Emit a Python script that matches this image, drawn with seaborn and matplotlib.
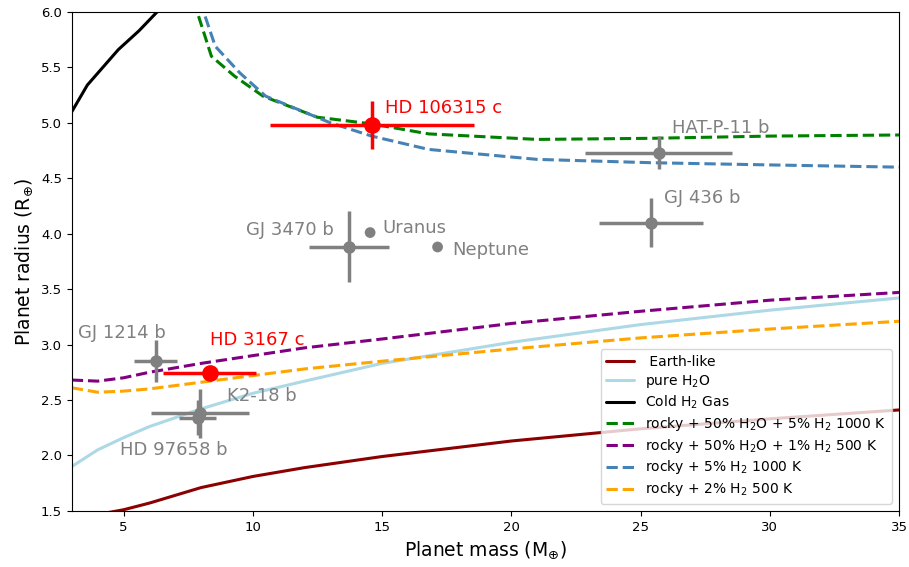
import numpy as np
import matplotlib.pyplot as plt
import seaborn as sns

# Mass-radius model curves (M_earth, R_earth)
earth_m = [4.3, 5, 6, 8, 10, 12, 15, 20, 25, 30, 35]
earth_r = [1.48, 1.51, 1.57, 1.71, 1.81, 1.89, 1.99, 2.13, 2.24, 2.33, 2.41]

h2o_m = [3, 4, 5, 6, 8, 10, 12, 15, 20, 25, 30, 35]
h2o_r = [1.90, 2.05, 2.16, 2.26, 2.42, 2.56, 2.67, 2.83, 3.02, 3.18, 3.31, 3.42]

cold_m = [3, 3.6, 4.8, 5.6, 6.3, 7.0]
cold_r = [5.10, 5.34, 5.66, 5.83, 6.0, 6.15]

w50h5_m = [7.7, 7.85, 8.4, 9.3, 10.4, 12.5, 14.6, 16.8, 21.0, 25.4, 30, 35]
w50h5_r = [6.1, 6.0, 5.60, 5.42, 5.24, 5.05, 4.99, 4.90, 4.85, 4.86, 4.88, 4.89]

w50h1_m = [3, 4, 5, 6, 8, 10, 12, 15, 20, 25, 30, 35]
w50h1_r = [2.68, 2.67, 2.70, 2.75, 2.83, 2.90, 2.97, 3.05, 3.19, 3.30, 3.40, 3.47]

h5_m = [8.0, 8.1, 8.55, 9.5, 10.5, 13.0, 14.6, 16.8, 21.0, 25.4, 30, 35]
h5_r = [6.1, 6.0, 5.69, 5.45, 5.24, 5.00, 4.88, 4.76, 4.67, 4.64, 4.62, 4.60]

h2_m = [3, 4, 5, 6, 8, 10, 12, 15, 20, 25, 30, 35]
h2_r = [2.61, 2.57, 2.58, 2.60, 2.66, 2.72, 2.78, 2.85, 2.96, 3.06, 3.14, 3.21]

# Known planets
planets = ["GJ 1214 b", "K2-18 b", "HD 97658 b", "GJ 3470 b", "HAT-P-11 b", "GJ 436 b"]
pl_mass = [6.24, 7.96, 7.87, 13.72, 25.7, 25.4]
pl_mass_err = [0.83, 1.90, 0.72, 1.55, 2.85, 2.0]
pl_rad = [2.85, 2.38, 2.34, 3.88, 4.73, 4.10]
pl_rad_err = [0.19, 0.22, 0.16, 0.32, 0.15, 0.22]

solar = ["Uranus", "Neptune"]
solar_mass = [14.54, 17.15]
solar_rad = [4.01, 3.88]

targets = ["HD 106315 c", "HD 3167 c"]
tg_mass = [14.6, 8.33]
tg_mass_err = [3.95, 1.8]
tg_rad = [4.98, 2.74]
tg_rad_err = [0.22, 0.0]

sns.set_style("ticks", {"axes.edgecolor": "black", "text.color": "black",
                        "xtick.color": "black", "ytick.color": "black",
                        "axes.labelcolor": "black"})
plt.rcParams['font.family'] = ['DejaVu Sans']

fig = plt.figure(figsize=(9.09, 5.67), dpi=100)
ax = fig.add_axes([0.079, 0.099, 0.910, 0.880])

lw = 2.2
sns.lineplot(x=earth_m, y=earth_r, sort=False, color='darkred', lw=lw, label=' Earth-like', ax=ax)
sns.lineplot(x=h2o_m, y=h2o_r, sort=False, color='lightblue', lw=lw, label='pure H$_2$O', ax=ax)
sns.lineplot(x=cold_m, y=cold_r, sort=False, color='black', lw=lw, label='Cold H$_2$ Gas', ax=ax)
sns.lineplot(x=w50h5_m, y=w50h5_r, sort=False, color='green', lw=lw, ls='--',
             label='rocky + 50% H$_2$O + 5% H$_2$ 1000 K', ax=ax)
sns.lineplot(x=w50h1_m, y=w50h1_r, sort=False, color='purple', lw=lw, ls='--',
             label='rocky + 50% H$_2$O + 1% H$_2$ 500 K', ax=ax)
sns.lineplot(x=h5_m, y=h5_r, sort=False, color='steelblue', lw=lw, ls='--',
             label='rocky + 5% H$_2$ 1000 K', ax=ax)
sns.lineplot(x=h2_m, y=h2_r, sort=False, color='orange', lw=lw, ls='--',
             label='rocky + 2% H$_2$ 500 K', ax=ax)

# planets with error bars
ax.errorbar(pl_mass, pl_rad, xerr=pl_mass_err, yerr=pl_rad_err, fmt='o', color='grey',
            ms=8, elinewidth=2.5, capsize=0, zorder=5)
sns.scatterplot(x=solar_mass, y=solar_rad, color='grey', s=60, edgecolor='none', ax=ax, zorder=5)
ax.errorbar(tg_mass, tg_rad, xerr=tg_mass_err, yerr=tg_rad_err, fmt='o', color='red',
            ms=11, elinewidth=2.5, capsize=0, zorder=6)

# labels
fs = 13
grey_labels = {
    "GJ 1214 b": (3.25, 3.10),
    "K2-18 b": (9.0, 2.54),
    "HD 97658 b": (4.88, 2.05),
    "GJ 3470 b": (9.75, 4.03),
    "Uranus": (15.0, 4.05),
    "Neptune": (17.7, 3.85),
    "HAT-P-11 b": (26.2, 4.95),
    "GJ 436 b": (25.9, 4.32),
}
for name, (tx, ty) in grey_labels.items():
    ax.text(tx, ty, name, color='grey', fontsize=fs, va='center', ha='left')
ax.text(15.1, 5.13, "HD 106315 c", color='red', fontsize=fs, va='center', ha='left')
ax.text(8.35, 3.04, "HD 3167 c", color='red', fontsize=fs, va='center', ha='left')

ax.set_xlim(3, 35)
ax.set_ylim(1.5, 6.0)
ax.set_xticks([5, 10, 15, 20, 25, 30, 35])
ax.set_yticks(np.arange(1.5, 6.01, 0.5))
ax.tick_params(labelsize=9.5)
ax.set_xlabel(r'Planet mass (M$_{\oplus}$)', fontsize=13.5)
ax.set_ylabel(r'Planet radius (R$_{\oplus}$)', fontsize=13.5)
ax.legend(loc='lower right', fontsize=10, labelspacing=0.28)

plt.savefig('out.png', dpi=100)
